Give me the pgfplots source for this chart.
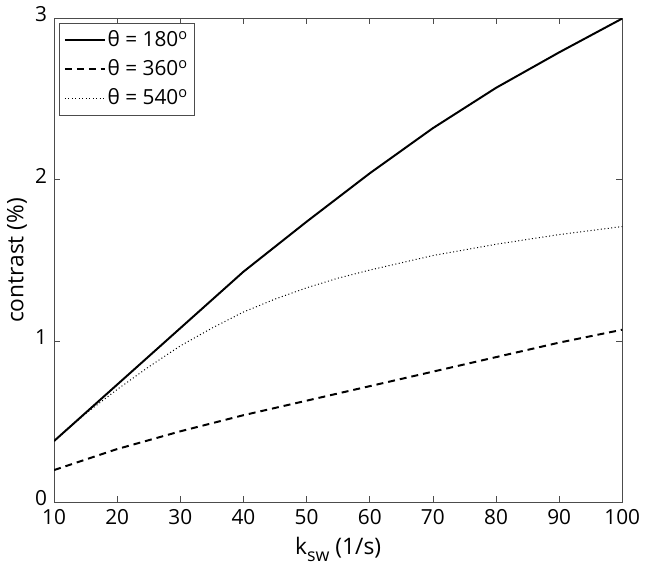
\documentclass[border=0pt]{standalone}
\usepackage{fontspec}
\setmainfont{Open Sans}
\usepackage{pgfplots}
\pgfplotsset{compat=1.18}
\begin{document}
\fontsize{21}{24}\selectfont
\begin{tikzpicture}
\begin{axis}[
  scale only axis,
  width=572bp, height=487bp,
  xmin=10, xmax=100, ymin=0, ymax=3,
  xtick={10,20,...,100}, ytick={0,1,2,3},
  tick align=inside,
  ticks=both,
  major tick length=6bp,
  axis line style={draw=black!70, line width=0.7pt},
  tick style={draw=black!70, line width=0.7pt},
  /pgf/number format/assume math mode=true,
  tick label style={font=\fontsize{21}{24}\selectfont},
  xticklabel style={yshift=0bp},
  yticklabel style={yshift=4bp},
  xlabel={k\raisebox{-8bp}{\fontsize{18}{20}\selectfont sw} (1/s)},
  ylabel={contrast (\%)},
  label style={font=\fontsize{23}{26}\selectfont},
  xlabel style={yshift=2bp},
  ylabel style={yshift=-6bp},
  legend style={draw=black!70, line width=0.7pt, font=\fontsize{21}{24}\selectfont, inner sep=5bp, row sep=6bp, at={(0.008,0.99)}, anchor=north west},
  legend cell align=left,
  legend image code/.code={\draw[#1] (0bp,0bp) -- (40bp,0bp);},
]
\addplot[black, line width=2pt] coordinates {
(10,0.38) (20,0.73) (30,1.08) (40,1.43) (50,1.74) (60,2.04) (70,2.32) (80,2.57) (90,2.79) (100,3.0)};
\addlegendentry{θ = 180\textsuperscript{o}}
\addplot[black, line width=2pt, dash pattern=on 7bp off 5bp] coordinates {
(10,0.2) (20,0.33) (30,0.44) (40,0.54) (50,0.63) (60,0.72) (70,0.81) (80,0.9) (90,0.99) (100,1.07)};
\addlegendentry{θ = 360\textsuperscript{o}}
\addplot[black, line width=1pt, dash pattern=on 1bp off 2.5bp] coordinates {
(10,0.38) (15,0.55) (20,0.7) (25,0.84) (30,0.97) (35,1.08) (40,1.18) (45,1.26) (50,1.33) (55,1.39) (60,1.44) (70,1.53) (80,1.60) (90,1.66) (100,1.71)};
\addlegendentry{θ = 540\textsuperscript{o}}
\end{axis}
\end{tikzpicture}
\end{document}
